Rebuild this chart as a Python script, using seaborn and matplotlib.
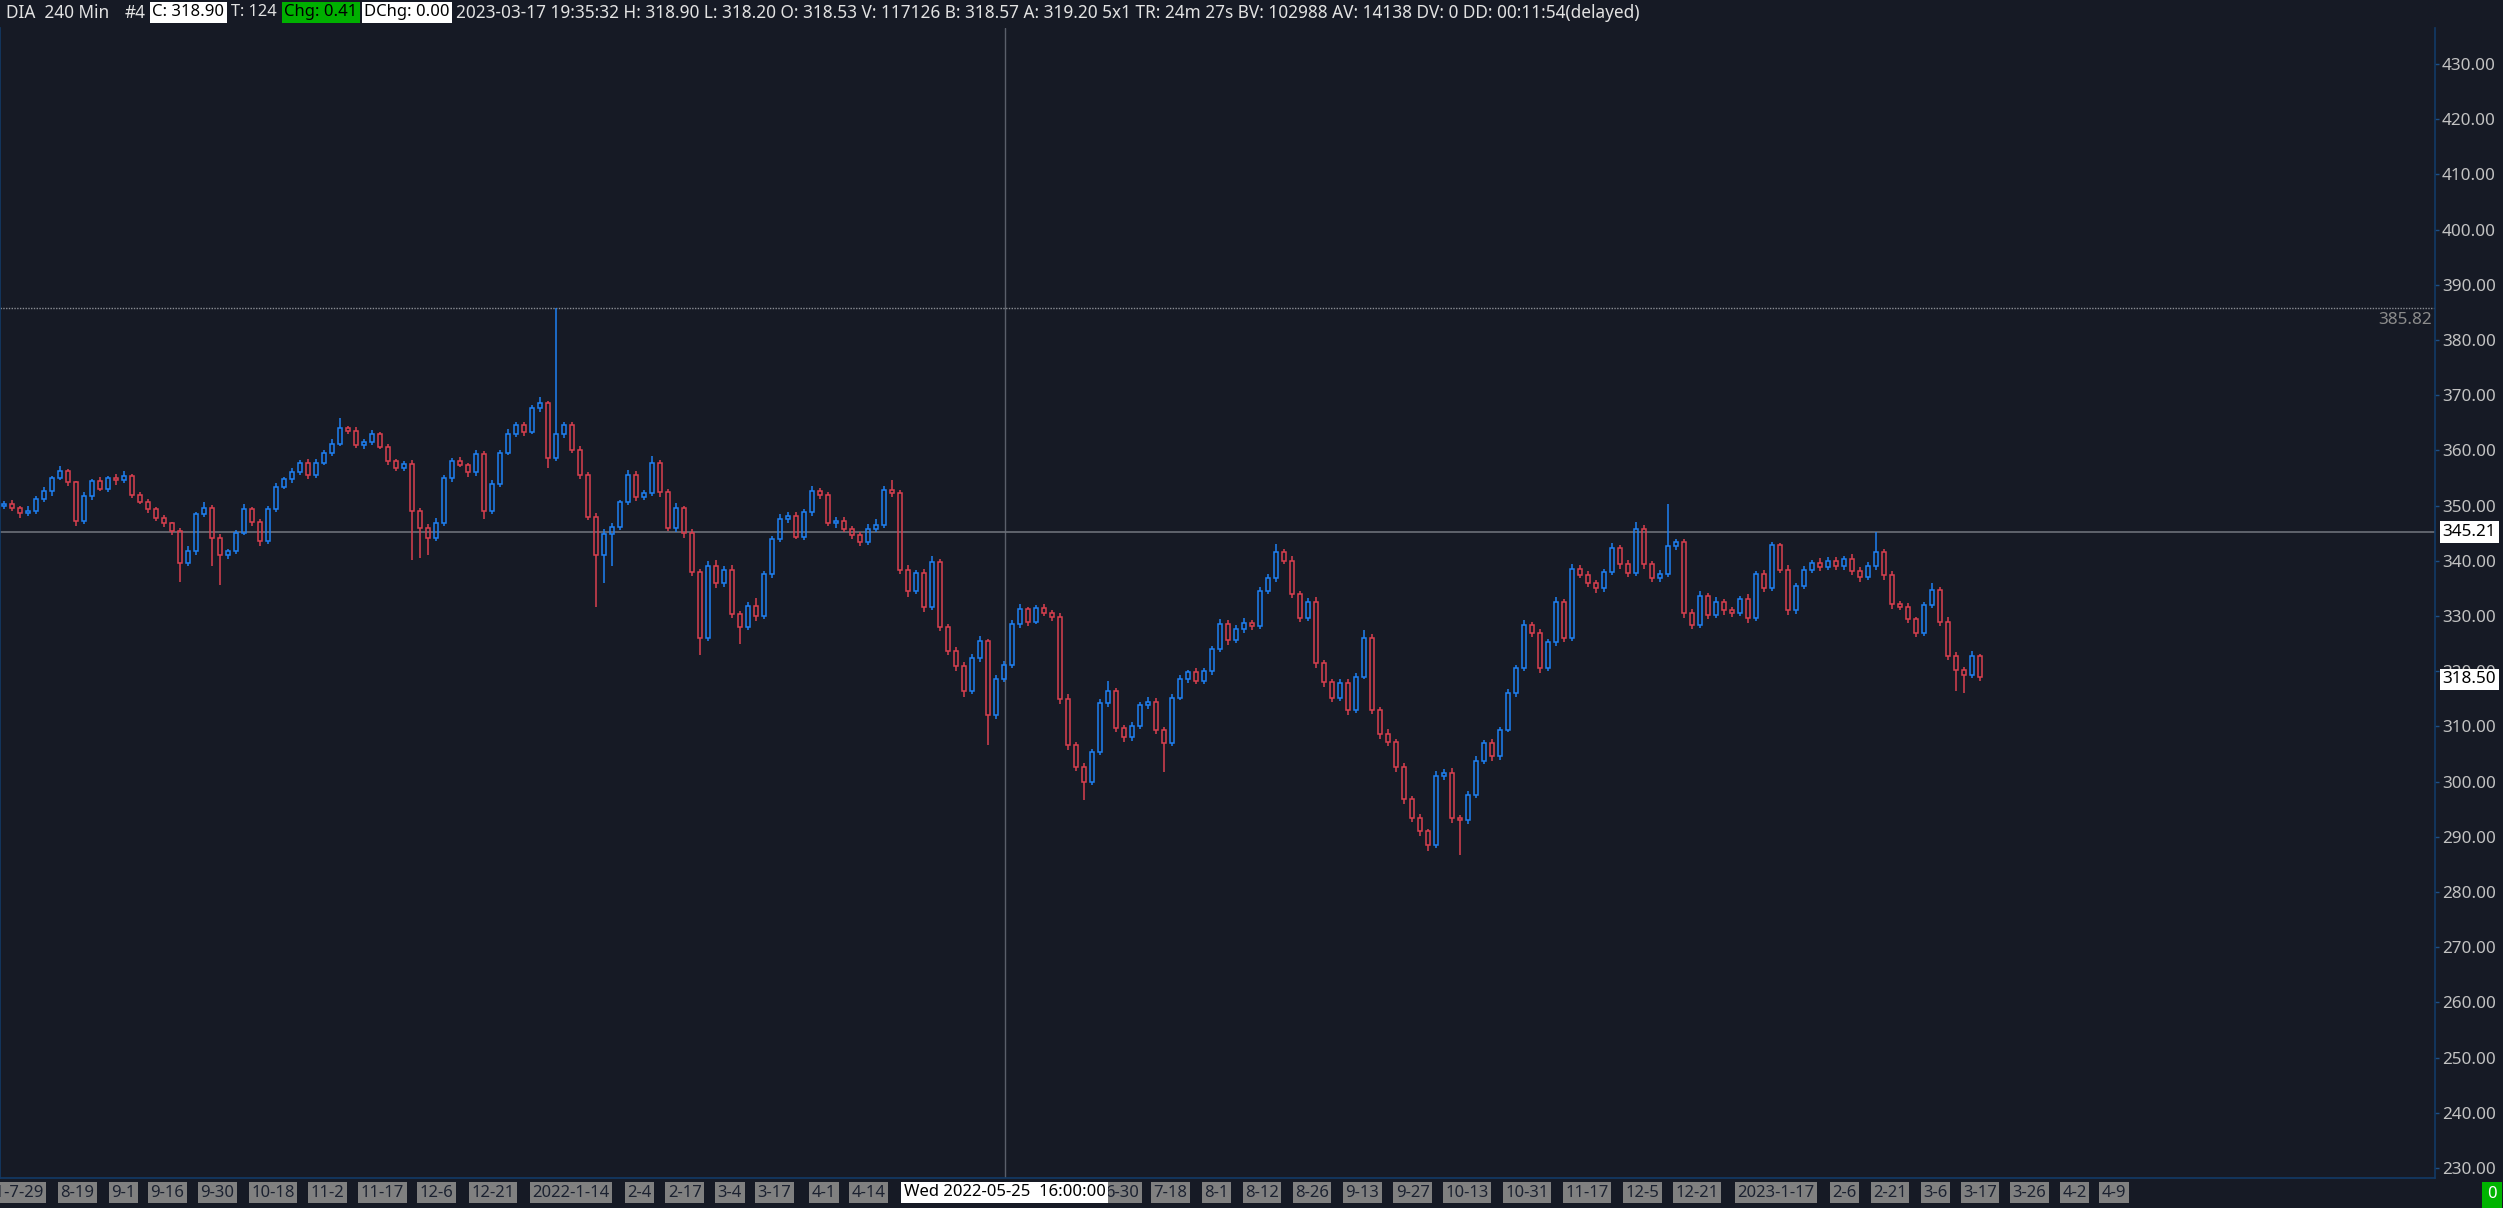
import numpy as np
import pandas as pd
import matplotlib
matplotlib.use("Agg")
import matplotlib.pyplot as plt
import matplotlib.transforms as mtransforms
import seaborn as sns

# ---------------- data ----------------
first_open = 350.0
closes = [
    350.3, 349.6, 348.6, 349.0, 351.2, 352.6, 355.0, 356.2, 354.2, 347.2,
    351.8, 354.4, 353.0, 355.0, 354.6, 355.4, 352.0, 350.6, 349.4, 347.8,
    346.8, 345.4, 339.6, 341.8, 348.4, 349.6, 344.2, 341.0, 341.8, 345.0,
    349.4, 347.0, 343.6, 349.4, 353.4, 354.8, 356.0, 357.8, 355.6, 357.8,
    359.6, 361.2, 364.0, 363.6, 361.0, 361.6, 363.0, 360.6, 358.0, 356.8,
    357.6, 349.0, 346.0, 344.2, 346.8, 355.0, 358.0, 357.4, 356.0, 359.4,
    349.0, 354.0, 359.6, 363.0, 364.6, 363.4, 367.6, 368.6, 358.6, 363.0,
    364.6, 360.0, 355.6, 348.0, 341.0, 344.8, 346.2, 350.6, 355.6, 351.6,
    352.2, 357.8, 352.4, 346.0, 349.6, 345.0, 338.0, 326.0, 339.0, 336.0,
    338.4, 330.4, 328.0, 331.8, 330.0, 337.6, 344.0, 347.6, 348.2, 344.4,
    348.8, 352.6, 352.0, 346.8, 347.2, 345.8, 344.6, 343.4, 345.8, 346.4,
    352.8, 352.2, 338.4, 334.6, 337.8, 331.6, 339.8, 328.0, 323.6, 321.0,
    316.4, 322.4, 325.4, 312.0, 318.6, 321.2, 328.6, 331.2, 329.0, 331.4,
    330.6, 329.8, 315.0, 306.6, 302.6, 300.0, 305.4, 314.2, 316.4, 309.8,
    308.0, 310.0, 313.8, 314.4, 309.4, 307.0, 315.2, 318.6, 319.8, 318.2,
    320.0, 324.0, 328.6, 325.6, 327.6, 328.8, 328.2, 334.6, 336.8, 341.6,
    340.0, 334.0, 329.6, 332.6, 321.4, 318.0, 315.2, 317.8, 313.0, 319.0,
    326.0, 313.0, 308.6, 307.2, 302.6, 296.8, 293.4, 291.0, 288.6, 301.0,
    301.6, 293.4, 293.0, 297.6, 303.8, 307.0, 304.6, 309.4, 316.0, 320.6,
    328.4, 327.0, 320.6, 325.2, 332.6, 326.0, 338.6, 337.4, 336.0, 335.0,
    338.0, 342.4, 339.4, 337.8, 345.8, 339.4, 336.8, 337.6, 342.6, 343.4,
    330.6, 328.4, 333.6, 330.2, 332.6, 331.0, 330.6, 333.0, 329.6, 337.6,
    335.0, 342.8, 338.4, 331.0, 335.4, 338.4, 339.6, 338.8, 340.0, 339.0,
    340.4, 338.2, 337.0, 339.0, 341.6, 337.4, 332.2, 331.6, 329.4, 327.0,
    332.0, 334.8, 329.0, 322.8, 320.2, 319.4, 322.8, 318.9,
]
upper_wick = [
    0.6, 0.8, 0.4, 0.9, 0.5, 0.7, 0.4, 0.9, 0.5, 0.3,
    0.6, 0.5, 0.8, 0.4, 0.7, 0.9, 0.3, 0.5, 0.6, 0.4,
    0.5, 0.3, 0.6, 0.8, 0.4, 1.0, 0.5, 0.7, 0.4, 0.6,
    0.8, 0.4, 0.6, 0.5, 0.7, 0.4, 0.9, 0.5, 0.6, 0.7,
    0.5, 0.8, 1.8, 0.4, 0.6, 0.5, 0.7, 0.4, 0.6, 0.5,
    0.4, 0.7, 0.5, 0.6, 0.9, 0.5, 0.6, 0.8, 0.4, 0.7,
    0.5, 0.6, 0.4, 0.8, 0.6, 0.5, 0.7, 1.0, 0.4, 22.82,
    0.6, 0.5, 0.8, 0.4, 0.7, 0.9, 0.6, 0.5, 0.8, 0.6,
    0.7, 1.1, 0.5, 0.6, 0.8, 0.4, 0.7, 0.5, 0.9, 1.2,
    0.6, 0.8, 0.5, 0.7, 1.4, 0.6, 0.5, 0.8, 0.6, 0.7,
    0.5, 0.9, 0.6, 0.4, 0.7, 0.8, 0.5, 0.6, 0.9, 1.2,
    0.7, 1.8, 0.6, 0.8, 0.5, 0.7, 1.0, 0.6, 0.5, 0.8,
    0.6, 0.7, 0.9, 0.5, 0.8, 0.6, 0.7, 0.9, 0.5, 0.6,
    0.8, 0.5, 0.7, 0.9, 0.6, 0.8, 0.5, 0.7, 1.8, 0.6,
    0.5, 0.8, 0.6, 0.9, 0.7, 0.5, 0.6, 0.8, 0.5, 0.7,
    0.6, 0.5, 0.8, 0.6, 0.7, 0.9, 0.5, 0.6, 0.8, 1.5,
    0.6, 0.8, 0.5, 0.7, 0.9, 0.6, 0.5, 0.8, 0.7, 0.6,
    1.5, 0.7, 0.6, 0.9, 0.5, 0.8, 0.6, 0.7, 0.5, 0.9,
    0.6, 0.8, 0.5, 0.7, 0.9, 0.6, 0.8, 0.5, 0.7, 0.6,
    0.8, 0.5, 0.7, 0.6, 0.9, 0.5, 0.8, 0.6, 0.7, 0.5,
    0.6, 0.8, 0.5, 0.7, 1.3, 0.6, 0.5, 0.8, 7.7, 0.6,
    0.5, 0.7, 0.9, 0.6, 0.8, 0.5, 0.7, 0.6, 0.9, 0.5,
    0.7, 0.6, 0.5, 0.8, 0.6, 0.7, 0.5, 0.9, 0.6, 0.7,
    0.5, 0.8, 0.6, 0.7, 3.6, 0.5, 0.8, 0.6, 0.7, 0.5,
    0.6, 1.2, 0.5, 0.8, 0.7, 0.6, 0.8, 0.4,
]
lower_wick = [
    0.7, 0.5, 0.9, 0.4, 0.6, 0.5, 0.8, 0.4, 0.6, 0.9,
    0.5, 0.7, 0.4, 0.6, 0.8, 0.5, 0.6, 0.4, 0.7, 0.5,
    0.6, 0.8, 3.4, 0.5, 0.7, 0.4, 5.2, 5.4, 0.6, 0.5,
    0.4, 0.7, 0.9, 0.5, 0.6, 0.4, 0.7, 0.5, 0.8, 0.6,
    0.5, 0.6, 0.4, 0.7, 0.5, 0.8, 0.6, 0.4, 0.7, 0.5,
    0.6, 8.8, 5.5, 3.2, 0.6, 0.5, 0.7, 0.4, 0.8, 0.6,
    1.4, 0.5, 0.7, 0.4, 0.6, 0.8, 0.5, 0.6, 1.8, 0.5,
    0.7, 0.5, 0.8, 0.6, 9.3, 5.0, 5.8, 0.6, 0.5, 0.7,
    0.6, 0.5, 0.8, 0.6, 0.7, 0.9, 0.8, 3.1, 0.6, 0.9,
    0.7, 0.8, 3.0, 0.6, 0.9, 0.5, 0.7, 0.6, 0.8, 0.5,
    0.7, 0.6, 0.8, 0.5, 0.9, 0.6, 0.7, 0.8, 0.5, 0.6,
    0.5, 0.7, 0.8, 1.2, 0.6, 0.9, 0.5, 0.8, 0.7, 0.9,
    1.0, 0.6, 0.8, 5.4, 0.7, 0.5, 0.6, 0.7, 0.8, 0.5,
    0.6, 0.7, 0.9, 0.8, 0.7, 3.3, 0.6, 0.5, 0.7, 0.8,
    0.9, 0.6, 0.5, 0.7, 0.8, 5.2, 0.6, 0.5, 0.7, 0.6,
    0.5, 0.7, 0.6, 0.8, 0.5, 0.6, 0.7, 0.5, 0.6, 0.7,
    0.6, 0.8, 0.7, 0.5, 0.9, 0.8, 0.7, 0.6, 0.9, 0.6,
    0.5, 0.8, 0.9, 0.7, 0.8, 0.9, 0.7, 0.8, 1.2, 0.6,
    0.7, 0.9, 6.3, 0.6, 0.5, 0.7, 0.8, 0.6, 0.5, 0.7,
    0.6, 0.8, 0.9, 0.5, 0.7, 0.8, 0.6, 0.5, 0.7, 0.8,
    0.6, 0.5, 0.8, 0.7, 0.5, 0.9, 0.7, 0.6, 0.5, 0.7,
    0.9, 0.8, 0.6, 0.7, 0.5, 0.8, 0.7, 0.6, 0.8, 0.5,
    0.7, 0.5, 0.6, 0.9, 0.6, 0.5, 0.7, 0.6, 0.5, 0.7,
    0.6, 0.7, 0.8, 0.5, 0.6, 0.8, 0.9, 0.6, 0.7, 0.8,
    0.6, 0.5, 0.8, 0.7, 3.7, 3.4, 0.6, 0.7,
]

date_labels = ["2021-7-29", "8-19", "9-1", "9-16", "9-30", "10-18", "11-2",
               "11-17", "12-6", "12-21", "2022-1-14", "2-4", "2-17", "3-4",
               "3-17", "4-1", "4-14", "6-30", "7-18", "8-1", "8-12", "8-26",
               "9-13", "9-27", "10-13", "10-31", "11-17", "12-5", "12-21",
               "2023-1-17", "2-6", "2-21", "3-6", "3-17", "3-26", "4-2", "4-9"]
date_bar_index = [0.1, 9.2, 14.9, 20.4, 26.7, 33.6, 40.4, 47.3, 54.1, 61.1,
                  70.9, 79.4, 85.1, 90.75, 96.3, 102.5, 108.1, 139.8, 145.8,
                  151.6, 157.25, 163.5, 169.8, 176.1, 182.9, 190.4, 197.9,
                  204.8, 211.6, 221.5, 230.1, 235.75, 241.4, 247.0, 253.2,
                  258.8, 263.75]

price_ticks = [230, 240, 250, 260, 270, 280, 290, 300, 310, 320, 330,
               340, 350, 360, 370, 380, 390, 400, 410, 420, 430]

cursor_bar = 125.1
cursor_price = 345.21
day_high = 385.82
last_price_label = 318.50
cursor_time = "Wed 2022-05-25  16:00:00"

# ---------------- style ----------------
BG = "#161a25"
UP = "#1f80f2"
DOWN = "#d9404f"
AXIS_BLUE = "#123a66"

sns.set_theme(style="dark", rc={"axes.facecolor": BG, "figure.facecolor": BG})
plt.rcParams["font.family"] = ["Noto Sans", "DejaVu Sans"]

W, H = 2503, 1208
fig = plt.figure(figsize=(W / 100, H / 100), dpi=100, facecolor=BG)
ax = fig.add_axes([0, 30 / H, 2435 / W, 1150 / H])
ax.set_facecolor(BG)
ax.grid(False)

df = pd.DataFrame({"close": closes})
df["open"] = [first_open] + closes[:-1]
df["body_lo"] = np.minimum(df["open"], df["close"])
df["body_hi"] = np.maximum(df["open"], df["close"])
df["high"] = df["body_hi"] + np.array(upper_wick)
df["low"] = df["body_lo"] - np.array(lower_wick)
df["bar"] = np.arange(len(df))
colors = np.where(df["close"] >= df["open"], UP, DOWN)

lw = 1.1
ax.bar(df["bar"], df["body_hi"] - df["body_lo"], bottom=df["body_lo"], width=0.55,
       fill=False, edgecolor=colors, linewidth=lw, zorder=3)
ax.vlines(df["bar"], df["body_hi"], df["high"], colors=colors, linewidth=lw, zorder=3)
ax.vlines(df["bar"], df["low"], df["body_lo"], colors=colors, linewidth=lw, zorder=3)

# cross-hair & reference lines
ax.axvline(cursor_bar, color="#5a5f6a", linewidth=1.0, zorder=2)
ax.axhline(cursor_price, color="#6c7079", linewidth=1.2, zorder=2)
ax.axhline(day_high, color="#8a8d94", linewidth=1.0, linestyle=(0, (1, 1)), zorder=2)

ax.set_xlim(-0.5, 303.875)
ax.set_ylim(228.19, 436.52)

# spines
ax.spines["top"].set_visible(False)
for side in ["bottom", "right", "left"]:
    ax.spines[side].set_visible(True)
    ax.spines[side].set_color(AXIS_BLUE)
    ax.spines[side].set_linewidth(1.2)

# y axis on the right
ax.yaxis.tick_right()
ax.set_yticks(price_ticks)
ax.set_yticklabels([f"{v:.2f}" for v in price_ticks])
ax.tick_params(axis="y", which="both", right=True, left=False, length=3, width=1,
               color="#1d4f85", pad=2, labelsize=12.3, labelcolor="#c2c2c2")

# x axis date boxes
ax.set_xticks(date_bar_index)
ax.set_xticklabels(date_labels)
ax.tick_params(axis="x", which="both", bottom=True, length=0, pad=4.7,
               labelsize=12, labelcolor="#1b2130")
for t in ax.get_xticklabels():
    t.set_bbox(dict(boxstyle="square,pad=0.15", fc="#808080", ec="none"))

# cursor time tooltip
tx = mtransforms.blended_transform_factory(ax.transData, ax.transAxes)
ax.text(cursor_bar, -6.5 / 1150, cursor_time, transform=tx, ha="center", va="top",
        fontsize=12, color="black", zorder=20, clip_on=False,
        bbox=dict(boxstyle="square,pad=0.15", fc="white", ec="none"))

# right-axis price flags
ty = mtransforms.blended_transform_factory(ax.transAxes, ax.transData)
for val in [cursor_price, last_price_label]:
    ax.text(1 + 7.5 / 2435, val, f"{val:.2f}", transform=ty, ha="left", va="center",
            fontsize=12.3, color="black", zorder=20, clip_on=False,
            bbox=dict(boxstyle="square,pad=0.15", fc="white", ec="none"))
ax.text(1 - 3 / 2435, day_high - 0.7, f"{day_high:.2f}", transform=ty, ha="right",
        va="top", fontsize=12.3, color="#8c8c8c", zorder=20)

# header
hy = 1 - 12.5 / H
def htxt(x, s, color="#e2e2e2", box=None, size=12):
    kw = {}
    if box is not None:
        kw["bbox"] = dict(boxstyle="square,pad=0.15", fc=box, ec="none")
    fig.text(x / W, hy, s, ha="left", va="center", fontsize=size, color=color, **kw)

htxt(5.6, "DIA  240 Min", size=12.4)
htxt(125, "#4", size=12.4)
htxt(152, "C: 318.90", color="black", box="white")
htxt(231, "T: 124", size=11.8)
htxt(284, "Chg: 0.41", color="black", box="#00b000")
htxt(364, "DChg: 0.00", color="black", box="white")
htxt(456, "2023-03-17 19:35:32 H: 318.90 L: 318.20 O: 318.53 V: 117126 B: 318.57 "
          "A: 319.20 5x1 TR: 24m 27s BV: 102988 AV: 14138 DV: 0 DD: 00:11:54(delayed)",
     size=12.4)

# bottom-right green box
fig.text(2492 / W, 1 - 1194.5 / H, "0", ha="center", va="center", fontsize=12,
         color="white", bbox=dict(boxstyle="square,pad=0.3", fc="#00b400", ec="none"))

fig.savefig("out.png", dpi=100, facecolor=BG)
